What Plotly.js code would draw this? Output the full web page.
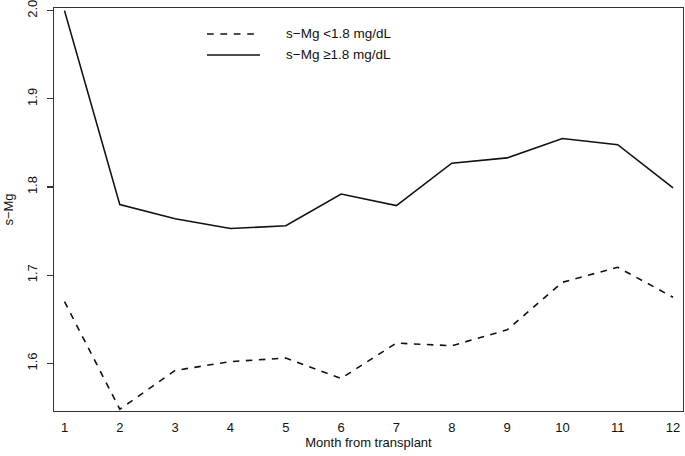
<!DOCTYPE html>
<html>
<head>
<meta charset="utf-8">
<script src="https://cdn.plot.ly/plotly-3.0.1.min.js"></script>
<style>
html,body{margin:0;padding:0;background:#fff;}
#chart{width:685px;height:456px;}
</style>
</head>
<body>
<div id="chart"></div>
<script>
var months = [1,2,3,4,5,6,7,8,9,10,11,12];
var lowMg  = [1.670,1.548,1.592,1.602,1.606,1.583,1.623,1.620,1.638,1.692,1.709,1.675];
var highMg = [2.000,1.780,1.764,1.753,1.756,1.792,1.779,1.827,1.833,1.855,1.848,1.799];
var seriesNames = ["s\u2212Mg <1.8 mg/dL","s\u2212Mg \u22651.8 mg/dL"];
var yTicks = [1.6,1.7,1.8,1.9,2.0];
var yTickText = ["1.6","1.7","1.8","1.9","2.0"];

var FONT = "Liberation Sans, Arial, sans-serif";
var INK = "#111111";

var traces = [
  {x: months, y: lowMg, mode: "lines", name: seriesNames[0],
   line: {color: INK, width: 1.6, dash: "6.5px,6.5px"}, cliponaxis: true},
  {x: months, y: highMg, mode: "lines", name: seriesNames[1],
   line: {color: INK, width: 1.6}, cliponaxis: true}
];

// manual legend (paper coords)
var L = 54, W = 629, T = 8, H = 403.5;
function px(x){ return (x - L)/W; }
function py(y){ return 1 - (y - T)/H; }

var layout = {
  width: 685, height: 456,
  margin: {l: 54, r: 2, t: 8, b: 44.5},
  paper_bgcolor: "#fff", plot_bgcolor: "#fff",
  showlegend: false,
  font: {family: FONT, size: 13, color: INK},
  xaxis: {
    range: [0.81, 12.18], tickvals: months, ticktext: months.map(String),
    ticks: "", showgrid: false, zeroline: false,
    showline: true, mirror: true, linecolor: "#333", linewidth: 1.3,
    ticklabelstandoff: 4, tickfont: {size: 13, family: FONT},
    title: {text: "Month from transplant", font: {size: 13, family: FONT}, standoff: 2},
    automargin: false
  },
  yaxis: {
    range: [1.546, 2.003], tickvals: yTicks, ticktext: yTickText,
    ticks: "outside", ticklen: 6, tickwidth: 1.2, tickcolor: "#333",
    tickangle: -90, showgrid: false, zeroline: false,
    showline: true, mirror: true, linecolor: "#333", linewidth: 1.3,
    ticklabelstandoff: 5, ticklabeloverflow: "allow", tickfont: {size: 13, family: FONT},
    title: {text: "s\u2212Mg", font: {size: 13, family: FONT}, standoff: 8},
    automargin: false
  },
  shapes: [
    {type: "line", xref: "paper", yref: "paper", x0: px(207), x1: px(260), y0: py(34), y1: py(34),
     line: {color: INK, width: 1.6, dash: "6.7px,6.7px"}},
    {type: "line", xref: "paper", yref: "paper", x0: px(207), x1: px(260), y0: py(55), y1: py(55),
     line: {color: INK, width: 1.6}}
  ],
  annotations: [
    {xref: "paper", yref: "paper", x: px(284), y: py(34), xanchor: "left", yanchor: "middle",
     text: seriesNames[0], showarrow: false, font: {size: 13.5, family: FONT, color: INK}},
    {xref: "paper", yref: "paper", x: px(284), y: py(55), xanchor: "left", yanchor: "middle",
     text: seriesNames[1], showarrow: false, font: {size: 13.5, family: FONT, color: INK}}
  ]
};

Plotly.newPlot("chart", traces, layout, {displayModeBar: false, staticPlot: true});
</script>
</body>
</html>
